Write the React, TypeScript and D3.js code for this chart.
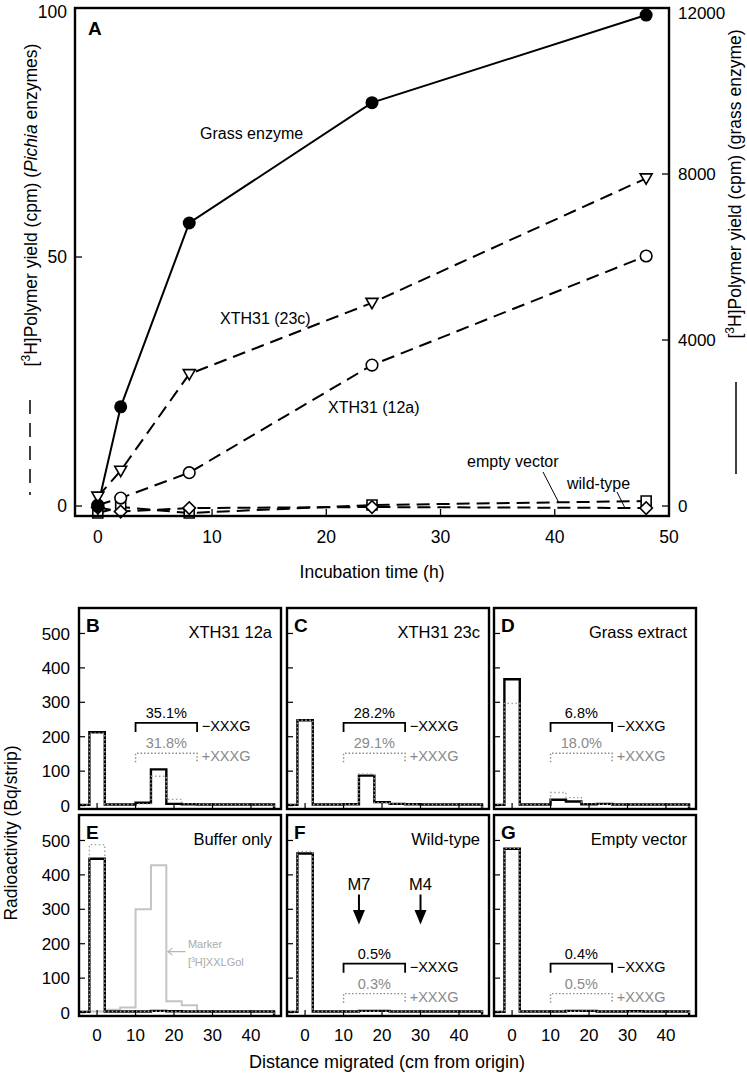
import * as d3 from "d3";

// panel A: time course
const hours = [0, 2, 8, 24, 48];
const grassCpm = [0, 2390, 6820, 9720, 11830];
const xth23c = [1.9, 7.1, 26.5, 40.8, 65.8];
const xth12a = [0.2, 1.6, 6.7, 28.3, 50.2];
const emptyVector = [-1.4, -0.2, -1.4, 0.2, 1.0];
const wildType = [-0.3, -1.1, -0.4, -0.2, -0.4];

const leftTicks = [0, 50, 100];
const rightTicks = [0, 4000, 8000, 12000];
const hourTicks = [0, 10, 20, 30, 40, 50];

// panels B-G: strips (cm centre), Bq/strip
const strips = [-4, 0, 4, 8, 12, 16, 20, 24, 28, 32, 36, 40, 44];
const bSolid = [2, 213, 3, 3, 8, 105, 5, 4, 3, 3, 3, 3, 3];
const bDotted = [2, 210, 3, 3, 5, 85, 18, 5, 3, 3, 3, 3, 3];
const cSolid = [2, 248, 3, 3, 4, 87, 10, 5, 4, 3, 3, 3, 3];
const cDotted = [2, 248, 3, 3, 4, 92, 8, 5, 4, 3, 3, 3, 3];
const dSolid = [2, 367, 3, 3, 17, 12, 4, 5, 3, 3, 3, 3, 3];
const dDotted = [2, 297, 3, 3, 38, 23, 5, 4, 3, 3, 3, 3, 3];
const eSolid = [2, 447, 3, 3, 3, 5, 4, 3, 3, 3, 3, 3, 3];
const eDotted = [2, 488, 3, 3, 3, 4, 3, 3, 3, 3, 3, 3, 3];
const eMarker = [2, 3, 8, 15, 300, 428, 33, 21, 3, 2, 2, 2, 2];
const fSolid = [2, 462, 3, 3, 3, 5, 5, 3, 3, 3, 3, 3, 3];
const fDotted = [2, 468, 3, 3, 3, 4, 4, 3, 3, 3, 3, 3, 3];
const gSolid = [2, 476, 3, 3, 3, 5, 5, 3, 3, 4, 3, 3, 3];
const gDotted = [2, 477, 3, 3, 3, 4, 5, 3, 3, 3, 3, 3, 3];

const distTicks = [0, 10, 20, 30, 40];
const radTicks = [0, 100, 200, 300, 400, 500];
const bracketSpan = [10, 26];
const bracketLevels = [[240, 152], [142, 55]];
const markerCm = [14, 30]; // M7, M4

const panels = [
  { letter: "B", title: "XTH31 12a", solid: bSolid, dotted: bDotted, minus: "35.1%", plus: "31.8%", col: 0, row: 0 },
  { letter: "C", title: "XTH31 23c", solid: cSolid, dotted: cDotted, minus: "28.2%", plus: "29.1%", col: 1, row: 0 },
  { letter: "D", title: "Grass extract", solid: dSolid, dotted: dDotted, minus: "6.8%", plus: "18.0%", col: 2, row: 0 },
  { letter: "E", title: "Buffer only", solid: eSolid, dotted: eDotted, marker: eMarker, col: 0, row: 1 },
  { letter: "F", title: "Wild-type", solid: fSolid, dotted: fDotted, minus: "0.5%", plus: "0.3%", col: 1, row: 1, arrows: true },
  { letter: "G", title: "Empty vector", solid: gSolid, dotted: gDotted, minus: "0.4%", plus: "0.5%", col: 2, row: 1 },
];

const font = "'Liberation Sans', Arial, Helvetica, sans-serif";
const colLeft = [79, 287, 494];
const rowTop = [608, 815];
const panelW = 202;
const panelH = 201;
const grey = "#8a8a8a";

function Panel({ p }: { p: any }) {
  const left = colLeft[p.col];
  const top = rowTop[p.row];
  const x = d3.scaleLinear().domain([-4.7, 47.8]).range([left, left + panelW]);
  const y = d3.scaleLinear().domain([-10, 574]).range([top + panelH, top]);
  const last = strips.length - 1;
  const step = (vals: number[]) => {
    let d = "";
    vals.forEach((v, i) => {
      const a = x(strips[i] - 2);
      const b = x(strips[i] + 2);
      d += (i === 0 ? `M${a},${y(v)}` : `L${a},${y(v)}`) + `L${b},${y(v)}`;
    });
    return d + `L${x(strips[last] + 2)},${y(-10)}`;
  };
  const id = `clip${p.letter}`;
  const lv = bracketLevels[p.row];
  const bracket = (level: number) =>
    `M${x(bracketSpan[0])},${y(level) + 9}V${y(level)}H${x(bracketSpan[1])}V${y(level) + 9}`;
  return (
    <g>
      <defs>
        <clipPath id={id}>
          <rect x={left} y={top} width={panelW} height={panelH} />
        </clipPath>
      </defs>
      <g clipPath={`url(#${id})`}>
        {p.marker && <path d={step(p.marker)} fill="none" stroke="#c4c4c4" strokeWidth={2} />}
        <path d={step(p.solid)} fill="none" stroke="#000" strokeWidth={2.4} />
        <path d={step(p.dotted)} fill="none" stroke="#a0a0a0" strokeWidth={1.4} strokeDasharray="1.5,2.5" />
      </g>
      {radTicks.map((t) => (
        <line key={"y" + t} x1={left} x2={left + 6} y1={y(t)} y2={y(t)} stroke="#000" strokeWidth={1.2} />
      ))}
      {distTicks.map((t) => (
        <line key={"x" + t} x1={x(t)} x2={x(t)} y1={top + panelH} y2={top + panelH - 6} stroke="#000" strokeWidth={1.2} />
      ))}
      <rect x={left} y={top} width={panelW} height={panelH} fill="none" stroke="#000" strokeWidth={2.4} />
      <text x={left + 7} y={top + 24} fontSize={19} fontWeight="bold">{p.letter}</text>
      <text x={left + panelW - 9} y={top + 30} fontSize={16.5} textAnchor="end">{p.title}</text>
      {p.minus && (
        <g fontSize={14.5}>
          <path d={bracket(lv[0])} fill="none" stroke="#000" strokeWidth={1.8} />
          <path d={bracket(lv[1])} fill="none" stroke={grey} strokeWidth={1.4} strokeDasharray="1.5,2" />
          <text x={x(18)} y={y(lv[0]) - 5} textAnchor="middle">{p.minus}</text>
          <text x={x(18)} y={y(lv[1]) - 5} textAnchor="middle" fill={grey}>{p.plus}</text>
          <text x={x(27.2)} y={y(lv[0]) + 8}>−XXXG</text>
          <text x={x(27.2)} y={y(lv[1]) + 8} fill={grey}>+XXXG</text>
        </g>
      )}
      {p.arrows &&
        markerCm.map((m, i) => (
          <g key={m}>
            <text x={x(m)} y={y(357)} fontSize={16.5} textAnchor="middle">{i === 0 ? "M7" : "M4"}</text>
            <line x1={x(m)} x2={x(m)} y1={y(343)} y2={y(290)} stroke="#000" strokeWidth={2} />
            <path d={`M${x(m) - 6},${y(298)}L${x(m) + 6},${y(298)}L${x(m)},${y(256)}Z`} fill="#000" />
          </g>
        ))}
      {p.marker && (
        <g fill="#aaa" fontSize={11}>
          <line x1={x(23)} x2={x(18.4)} y1={y(177)} y2={y(177)} stroke="#b5b5b5" strokeWidth={1.2} />
          <path d={`M${x(19.6)},${y(177) - 3.5}L${x(18.4)},${y(177)}L${x(19.6)},${y(177) + 3.5}`} fill="none" stroke="#b5b5b5" strokeWidth={1.2} />
          <text x={x(23.6)} y={y(189)}>Marker</text>
          <text x={x(23.6)} y={y(134)}>
            [<tspan fontSize={7} dy={-4}>3</tspan><tspan dy={4}>H]XXLGol</tspan>
          </text>
        </g>
      )}
      {p.col === 0 &&
        radTicks.map((t) => (
          <text key={"yl" + t} x={left - 9} y={y(t)} dy="0.36em" fontSize={17} textAnchor="end">{t}</text>
        ))}
      {p.row === 1 &&
        distTicks.map((t) => (
          <text key={"xl" + t} x={x(t)} y={top + panelH + 25} fontSize={17} textAnchor="middle">{t}</text>
        ))}
    </g>
  );
}

export default function App() {
  const xT = d3.scaleLinear().domain([-2, 50]).range([75, 669]);
  const yL = d3.scaleLinear().domain([-2, 100]).range([516, 8]);
  const yR = d3.scaleLinear().domain([-240, 12000]).range([516, 8]);
  const lineL = d3.line<number>().x((_, i) => xT(hours[i])).y((d) => yL(d));
  const lineR = d3.line<number>().x((_, i) => xT(hours[i])).y((d) => yR(d));
  const tri = d3.symbol().type(d3.symbolTriangle).size(62)()!;
  const sq = d3.symbol().type(d3.symbolSquare).size(100)()!;
  const dia = d3.symbol().type(d3.symbolSquare).size(78)()!;
  const dash = "13,7";

  return (
    <svg width={747} height={1084} style={{ position: "absolute", left: 0, top: 0, background: "#fff" }} fontFamily={font}>
      {/* panel A */}
      <path d={lineL(emptyVector)!} fill="none" stroke="#000" strokeWidth={2} strokeDasharray={dash} />
      <path d={lineL(wildType)!} fill="none" stroke="#000" strokeWidth={2} strokeDasharray={dash} />
      <path d={lineL(xth12a)!} fill="none" stroke="#000" strokeWidth={2} strokeDasharray={dash} />
      <path d={lineL(xth23c)!} fill="none" stroke="#000" strokeWidth={2} strokeDasharray={dash} />
      <path d={lineR(grassCpm)!} fill="none" stroke="#000" strokeWidth={2} />
      {hours.map((h, i) => (
        <g key={h}>
          <path d={sq} transform={`translate(${xT(h)},${yL(emptyVector[i])})`} fill="#fff" stroke="#000" strokeWidth={1.6} />
          <path d={dia} transform={`translate(${xT(h)},${yL(wildType[i])}) rotate(45)`} fill="#fff" stroke="#000" strokeWidth={1.6} />
          <circle cx={xT(h)} cy={yL(xth12a[i])} r={5.8} fill="#fff" stroke="#000" strokeWidth={1.6} />
          <path d={tri} transform={`translate(${xT(h)},${yL(xth23c[i]) - 1}) rotate(180)`} fill="#fff" stroke="#000" strokeWidth={1.6} />
          <circle cx={xT(h)} cy={yR(grassCpm[i])} r={6.5} fill="#000" />
        </g>
      ))}
      {leftTicks.map((t) => (
        <g key={"l" + t}>
          <line x1={75} x2={82} y1={yL(t)} y2={yL(t)} stroke="#000" strokeWidth={1.3} />
          <text x={67} y={Math.max(yL(t), 12)} dy="0.36em" fontSize={17.5} textAnchor="end">{t}</text>
        </g>
      ))}
      {rightTicks.map((t) => (
        <g key={"r" + t}>
          <line x1={662} x2={669} y1={yR(t)} y2={yR(t)} stroke="#000" strokeWidth={1.3} />
          <text x={678} y={Math.max(yR(t), 13)} dy="0.36em" fontSize={17} textAnchor="start">{t}</text>
        </g>
      ))}
      {hourTicks.map((t) => (
        <g key={"h" + t}>
          <line x1={xT(t)} x2={xT(t)} y1={516} y2={509} stroke="#000" strokeWidth={1.3} />
          <text x={xT(t)} y={543} fontSize={17.5} textAnchor="middle">{t}</text>
        </g>
      ))}
      <rect x={75} y={8} width={594} height={508} fill="none" stroke="#000" strokeWidth={2.4} />
      <text x={88} y={35} fontSize={19} fontWeight="bold">A</text>
      <g fontSize={16}>
        <text x={200} y={139}>Grass enzyme</text>
        <text x={220} y={324}>XTH31 (23c)</text>
        <text x={328} y={413}>XTH31 (12a)</text>
        <text x={467} y={467}>empty vector</text>
        <text x={567} y={489}>wild-type</text>
      </g>
      <line x1={543} y1={472} x2={559} y2={503} stroke="#000" strokeWidth={1} />
      <line x1={617} y1={492} x2={625} y2={508} stroke="#000" strokeWidth={1} />
      <text x={372} y={578} fontSize={17.5} textAnchor="middle">Incubation time (h)</text>
      <text transform="translate(37,205) rotate(-90)" fontSize={17.5} textAnchor="middle">
        [<tspan fontSize={12} dy={-7}>3</tspan><tspan dy={7}>H]Polymer yield (cpm) (</tspan>
        <tspan fontStyle="italic">Pichia</tspan> enzymes)
      </text>
      <line x1={30} x2={30} y1={400} y2={495} stroke="#000" strokeWidth={1.5} strokeDasharray="14,9" />
      <text transform="translate(741,184) rotate(-90)" fontSize={17.5} textAnchor="middle">
        [<tspan fontSize={12} dy={-7}>3</tspan><tspan dy={7}>H]Polymer yield (cpm) (grass enzyme)</tspan>
      </text>
      <line x1={736} x2={736} y1={382} y2={474} stroke="#000" strokeWidth={1.5} />

      {/* panels B-G */}
      {panels.map((p) => (
        <Panel key={p.letter} p={p} />
      ))}
      <text transform="translate(17,833) rotate(-90)" fontSize={17.5} textAnchor="middle">Radioactivity (Bq/strip)</text>
      <text x={387} y={1068} fontSize={18} textAnchor="middle">Distance migrated (cm from origin)</text>
    </svg>
  );
}
